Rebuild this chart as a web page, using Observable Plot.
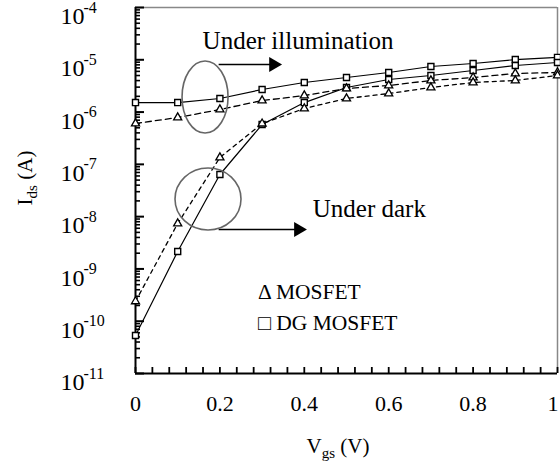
<!DOCTYPE html>
<html><head><meta charset="utf-8">
<script src="https://cdn.jsdelivr.net/npm/d3@7"></script>
<script src="https://cdn.jsdelivr.net/npm/@observablehq/plot@0.6"></script>
<style>body{margin:0;background:#fff} svg{display:block}</style>
</head><body><div id="chart"></div>
<script>
// ---- data ----
const vgs = [0, 0.1, 0.2, 0.3, 0.4, 0.5, 0.6, 0.7, 0.8, 0.9, 1.0];
const illumDG  = [1.52e-6, 1.52e-6, 1.82e-6, 2.70e-6, 3.68e-6, 4.58e-6, 5.71e-6, 7.44e-6, 8.49e-6, 1.01e-5, 1.11e-5];
const illumMOS = [6.05e-7, 7.87e-7, 1.12e-6, 1.66e-6, 2.07e-6, 2.82e-6, 3.22e-6, 4.02e-6, 4.58e-6, 5.47e-6, 5.71e-6];
const darkDG   = [5.33e-11, 2.16e-9, 6.40e-8, 5.78e-7, 1.52e-6, 2.95e-6, 4.20e-6, 5.01e-6, 6.24e-6, 7.78e-6, 8.87e-6];
const darkMOS  = [2.39e-10, 7.40e-9, 1.35e-7, 6.00e-7, 1.17e-6, 1.82e-6, 2.26e-6, 2.95e-6, 3.68e-6, 4.02e-6, 5.01e-6];

const yMajor = [1e-11, 1e-10, 1e-9, 1e-8, 1e-7, 1e-6, 1e-5, 1e-4];
const yExponents = ["-11", "-10", "-9", "-8", "-7", "-6", "-5", "-4"];
const xMajor = [0, 0.2, 0.4, 0.6, 0.8];
const xMajorLabels = ["0", "0.2", "0.4", "0.6", "0.8"];
const xLast = [1];
const xLastLabel = ["1"];
const xMinor = d3.range(0, 1.0001, 0.04);
const yMinor = yMajor.slice(0, -1).flatMap(p => [2,3,4,5,6,7,8,9].map(m => m * p));

// annotation anchors (data coordinates)
const illumArrow = [{x1: 0.197, x2: 0.32, y: 8.13e-6, xh: 0.327}];
const darkArrow  = [{x1: 0.197, x2: 0.38, y: 5.68e-9, xh: 0.386}];
const ellipses = [{x: 0.166, y: 1.90e-6, rx: 23, ry: 36}, {x: 0.173, y: 2.13e-8, rx: 33, ry: 31}];
const notes = [{x: 0.159, y: 2.24e-5, text: "Under illumination"}, {x: 0.42, y: 1.4e-8, text: "Under dark"}];
const legend = [{x: 0.29, y: 3.55e-10, text: "\u0394 MOSFET"}, {x: 0.29, y: 9.06e-11, text: "\u25A1 DG MOSFET"}];

const rows = (vals) => vgs.map((v, i) => ({x: v, y: vals[i]}));
const FONT = '"Liberation Serif", "Times New Roman", serif';
const W = 560, H = 471, ML = 135, MR = 3, MT = 7, MB = 98;
const FW = W - ML - MR, FH = H - MT - MB;

const plot = Plot.plot({
  width: W, height: H,
  marginLeft: ML, marginRight: MR, marginTop: MT, marginBottom: MB,
  style: {fontFamily: FONT, background: "#fff", color: "#000"},
  x: {domain: [0, 1], axis: null},
  y: {type: "log", domain: [1e-11, 1e-4], axis: null},
  marks: [
    // frame
    Plot.ruleY([1e-4], {stroke: "#888", strokeWidth: 1.5}),
    Plot.ruleX([1], {stroke: "#888", strokeWidth: 1.5}),
    // inward ticks
    Plot.ruleX(xMinor, {insetTop: FH - 6, stroke: "#000", strokeWidth: 1.8}),
    Plot.ruleY(yMajor, {insetRight: FW - 9, stroke: "#000", strokeWidth: 2}),
    Plot.ruleY(yMinor, {insetRight: FW - 5, stroke: "#000", strokeWidth: 1.6}),
    Plot.ruleX([0], {stroke: "#000", strokeWidth: 2}),
    Plot.ruleY([1e-11], {stroke: "#000", strokeWidth: 2}),
    // tick labels
    Plot.text(xMajor, {x: d => d, frameAnchor: "bottom", dy: 37, text: (d, i) => xMajorLabels[i], fontSize: 22}),
    Plot.text(xLast, {x: d => d, frameAnchor: "bottom", dy: 37, dx: 1, textAnchor: "end", text: (d, i) => xLastLabel[i], fontSize: 22}),
    Plot.text(yMajor, {y: d => d, frameAnchor: "left", dx: -75, dy: 9, textAnchor: "start", text: () => "10", fontSize: 24}),
    Plot.text(yMajor, {y: d => d, frameAnchor: "left", dx: -52, dy: 0, textAnchor: "start", text: (d, i) => yExponents[i], fontSize: 16}),
    // series lines
    Plot.line(rows(illumDG), {x: "x", y: "y", stroke: "#000", strokeWidth: 1.2}),
    Plot.line(rows(darkDG), {x: "x", y: "y", stroke: "#000", strokeWidth: 1.2}),
    Plot.line(rows(illumMOS), {x: "x", y: "y", stroke: "#000", strokeWidth: 1.3, strokeDasharray: "6,4"}),
    Plot.line(rows(darkMOS), {x: "x", y: "y", stroke: "#000", strokeWidth: 1.3, strokeDasharray: "4,4"}),
    // markers
    Plot.dot(rows(illumDG).concat(rows(darkDG)), {x: "x", y: "y", symbol: "square", r: 3.4, fill: "#fff", stroke: "#000", strokeWidth: 1.4}),
    Plot.dot(rows(illumMOS).concat(rows(darkMOS)), {x: "x", y: "y", symbol: "triangle", r: 3, fill: "#fff", stroke: "#000", strokeWidth: 1.3}),
    // arrows
    Plot.link(illumArrow.concat(darkArrow), {x1: "x1", x2: "x2", y1: "y", y2: "y", stroke: "#000", strokeWidth: 1.6}),
    Plot.dot(illumArrow.concat(darkArrow), {x: "xh", y: "y", symbol: "triangle", rotate: 90, r: 5.5, fill: "#000", stroke: "none"}),
    // notes & legend
    Plot.text(notes, {x: "x", y: "y", text: "text", textAnchor: "start", fontSize: 25}),
    Plot.text(legend, {x: "x", y: "y", text: "text", textAnchor: "start", fontSize: 21.5})
  ]
});

// ellipses and axis titles drawn through the plot's own scales
const sx = plot.scale("x"), sy = plot.scale("y");
const svg = d3.select(plot);
svg.selectAll("ellipse.ann").data(ellipses).join("ellipse")
  .attr("cx", d => sx.apply(d.x)).attr("cy", d => sy.apply(d.y))
  .attr("rx", d => d.rx).attr("ry", d => d.ry)
  .attr("fill", "none").attr("stroke", "#666").attr("stroke-width", 1.6);

const yt = svg.append("text").attr("transform", "translate(32,178) rotate(-90)")
  .attr("text-anchor", "middle").attr("font-size", 21).attr("font-family", FONT).attr("fill", "#000");
yt.append("tspan").text("I");
yt.append("tspan").attr("dy", 5).attr("font-size", 15).text("ds");
yt.append("tspan").attr("dy", -5).text(" (A)");

const xt = svg.append("text").attr("x", 338).attr("y", 453)
  .attr("text-anchor", "middle").attr("font-size", 21).attr("font-family", FONT).attr("fill", "#000");
xt.append("tspan").text("V");
xt.append("tspan").attr("dy", 5).attr("font-size", 15).text("gs");
xt.append("tspan").attr("dy", -5).text(" (V)");

document.getElementById("chart").appendChild(plot);
</script>
</body></html>
